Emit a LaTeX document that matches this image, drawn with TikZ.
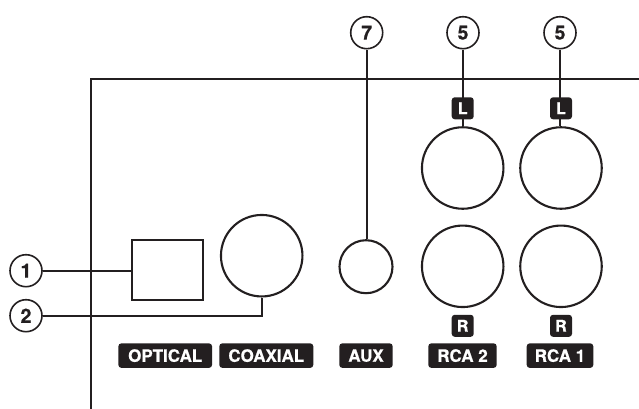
\documentclass[tikz,border=0pt]{standalone}
\usepackage{fontspec}
\setmainfont[BoldFeatures={FakeBold=0.6}]{TeX Gyre Heros}
\definecolor{ink}{HTML}{231F20}
\tikzset{
  panel/.style={draw=ink,line width=1.9pt},
  leader/.style={draw=ink,line width=1.6pt},
  callout/.style={circle,draw=ink,line width=1.6pt,fill=white,minimum size=32pt,inner sep=0pt,text=ink,font=\fontsize{19.5}{19.5}\selectfont\bfseries},
  jack/.style={circle,draw=ink,line width=2.1pt,fill=white,inner sep=0pt,minimum size=#1},
  tagbox/.style={rectangle,rounded corners=3pt,fill=ink,text=white,inner sep=0pt,minimum height=24.5pt,font=\fontsize{17}{17}\selectfont\bfseries},
  chan/.style={tagbox,minimum width=22pt,minimum height=22pt,font=\fontsize{16}{16}\selectfont\bfseries}
}
\begin{document}
\begin{tikzpicture}[x=1pt,y=-1pt]
\useasboundingbox (0,0) rectangle (639,408);
\coordinate (pb) at (91,408);
\coordinate (pc) at (91,79);
\coordinate (pr) at (639,79);
\draw[panel,line cap=rect] (pb) -- (pc) -- (pr);
\node[callout] (c1) at (26,270.7) {1};
\node[callout] (c2) at (26,315.7) {2};
\node[callout] (c7) at (366.7,32.7) {7};
\node[callout] (c5a) at (463,32.7) {5};
\node[callout] (c5b) at (560,32.7) {5};
\node[rectangle,draw=ink,line width=2.1pt,fill=white,minimum width=71pt,minimum height=60pt,inner sep=0pt] (opt) at (167.5,269.7) {};
\node[jack=81.5pt] (coax) at (261.7,255.7) {};
\node[jack=53pt] (aux) at (366,266.7) {};
\node[jack=81.5pt] (l2) at (462.7,168) {};
\node[jack=81.5pt] (l1) at (561,168) {};
\node[jack=81.5pt] (r2) at (462.7,266.3) {};
\node[jack=81.5pt] (r1) at (561,266.3) {};
\draw[leader] (c1) -- (c1 -| opt.west);
\draw[leader] (c2) -| (coax.south);
\draw[leader] (c7.south) -- (c7.south |- aux.north);
\draw[leader] (c5a.south) -- (c5a.south |- l2.north);
\draw[leader] (c5b.south) -- (c5b.south |- l1.north);
\node[chan] (tl2) at (462.7,108.3) {L};
\node[chan] (tl1) at (561,108.3) {L};
\node[chan] (tr2) at (462.7,325.8) {R};
\node[chan] (tr1) at (561,325.8) {R};
\node[tagbox,minimum width=93.7pt] (lopt) at (165.2,355.6) {OPTICAL};
\node[tagbox,minimum width=94pt] (lcoax) at (266.3,355.6) {COAXIAL};
\node[tagbox,minimum width=53.4pt] (laux) at (366,355.6) {AUX};
\node[tagbox,minimum width=68.4pt] (lrca2) at (462.5,355.6) {RCA 2};
\node[tagbox,minimum width=66.6pt] (lrca1) at (560,355.6) {RCA 1};
\end{tikzpicture}
\end{document}
